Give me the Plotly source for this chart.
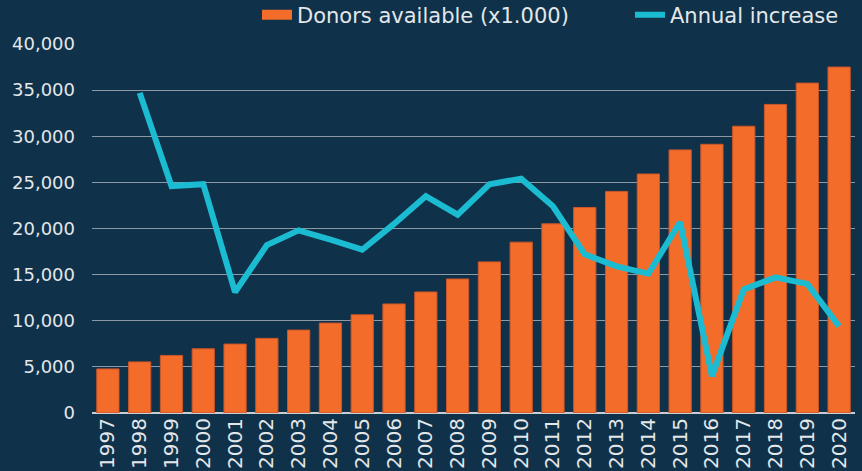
import plotly.graph_objects as go

years = [str(y) for y in range(1997, 2021)]

donors = [4780, 5540, 6240, 6960, 7470, 8090, 8990, 9750, 10650, 11820, 13120, 14530,
          16380, 18520, 20510, 22280, 24020, 25910, 28520, 29130, 31090, 33450, 35760, 37500]

increase_years = years[1:]
increase = [34700, 24600, 24800, 13100, 18200, 19800, 18800, 17700, 20500, 23500, 21500,
            24800, 25400, 22400, 17200, 15900, 15100, 20700, 4000, 13400, 14700, 14000, 9400]

bg = "#0f3149"
orange = "#f36c2a"
cyan = "#1bbcd2"
font_name = "DejaVu Sans"

fig = go.Figure()
fig.add_trace(go.Bar(
    x=years, y=donors, name="Donors available (x1.000)", showlegend=False,
    marker=dict(color=orange, line=dict(color="#c9562a", width=1)),
))
# legend entry only, drawn as a flat orange rectangle like the original
fig.add_trace(go.Scatter(
    x=[None], y=[None], name="Donors available (x1.000)", mode="lines",
    line=dict(color=orange, width=10), hoverinfo="skip",
))
fig.add_trace(go.Scatter(
    x=increase_years, y=increase, name="Annual increase", mode="lines",
    line=dict(color=cyan, width=6),
))

fig.update_layout(
    width=862, height=471,
    paper_bgcolor=bg, plot_bgcolor=bg,
    margin=dict(l=92, r=7, t=44, b=58, autoexpand=False),
    bargap=0.3,
    font=dict(family=font_name, color="#e3e7ea", size=18),
    legend=dict(orientation="h", xref="container", x=257 / 862, xanchor="left",
                yref="container", y=1 - 15 / 471, yanchor="middle",
                entrywidth=328, font=dict(size=21), bgcolor="rgba(0,0,0,0)"),
    showlegend=True,
)
fig.update_yaxes(range=[0, 40000], dtick=5000, tickformat=",", gridcolor="#8d99a5",
                 gridwidth=1, zeroline=True, zerolinecolor="#c8ced4", zerolinewidth=2,
                 ticks="", ticklabelstandoff=16, automargin=False)
fig.update_xaxes(tickangle=-90, showgrid=False, showline=False, ticks="", automargin=False,
                 tickfont=dict(size=20))

fig.write_html("out.html", config={"displayModeBar": False},
               post_script="document.body.style.margin='0px';")
